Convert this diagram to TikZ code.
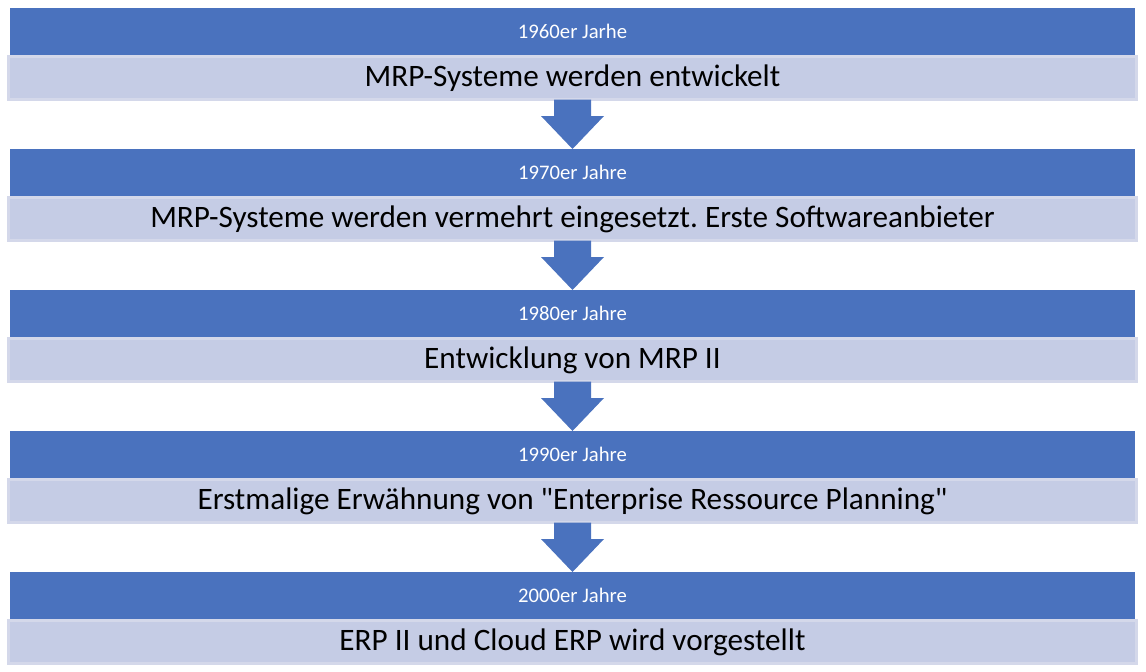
\documentclass[tikz,border=0pt]{standalone}
\usepackage{fontspec}
\setmainfont{Carlito}[Ligatures=TeXOff]
\usetikzlibrary{calc}
\frenchspacing
\definecolor{hdrblue}{HTML}{4A72BE}
\definecolor{bodyfill}{HTML}{C5CCE5}
\definecolor{bodyline}{HTML}{D4D8EA}
\tikzset{
  hdr/.style={fill=hdrblue, text=white, minimum width=1125pt, minimum height=47pt,
    inner sep=0pt, outer sep=0pt, font=\fontsize{20.7}{24}\selectfont},
  bodybox/.style={fill=bodyfill, draw=bodyline, line width=3pt, minimum width=1128pt,
    minimum height=43pt, inner sep=0pt, outer sep=0pt, text=black, font=\fontsize{31.2}{36}\selectfont},
  blockarrow/.style={fill=hdrblue, draw=none}
}
\newcommand{\blockarr}[2]{%
  \fill[blockarrow] ($(#1.south)+(-18.5,0)$) -- ($(#2.north)+(-18.5,-33)$)
    -- ($(#2.north)+(-31.5,-33)$) -- (#2.north) -- ($(#2.north)+(31.5,-33)$)
    -- ($(#2.north)+(18.5,-33)$) -- ($(#1.south)+(18.5,0)$) -- cycle;}
\begin{document}
\begin{tikzpicture}[x=1pt,y=-1pt]
\useasboundingbox (0,0) rectangle (1146,672);
\node[hdr] (h1) at (572.5,31.5) {1960er Jarhe};
\node[bodybox] (b1) at (572.5,78) {\raisebox{1.5pt}{MRP-Systeme werden entwickelt}};
\node[hdr] (h2) at (572.5,172.5) {1970er Jahre};
\node[bodybox] (b2) at (572.5,219) {\raisebox{1.5pt}{MRP-Systeme werden vermehrt eingesetzt. Erste Softwareanbieter}};
\node[hdr] (h3) at (572.5,313.5) {1980er Jahre};
\node[bodybox] (b3) at (572.5,360) {\raisebox{1.5pt}{Entwicklung von MRP II}};
\node[hdr] (h4) at (572.5,454.5) {1990er Jahre};
\node[bodybox] (b4) at (572.5,501) {\raisebox{1.5pt}{Erstmalige Erwähnung von "Enterprise Ressource Planning"}};
\node[hdr] (h5) at (572.5,595.5) {2000er Jahre};
\node[bodybox] (b5) at (572.5,642) {\raisebox{1.5pt}{ERP II und Cloud ERP wird vorgestellt}};
\blockarr{b1}{h2}
\blockarr{b2}{h3}
\blockarr{b3}{h4}
\blockarr{b4}{h5}
\end{tikzpicture}
\end{document}
